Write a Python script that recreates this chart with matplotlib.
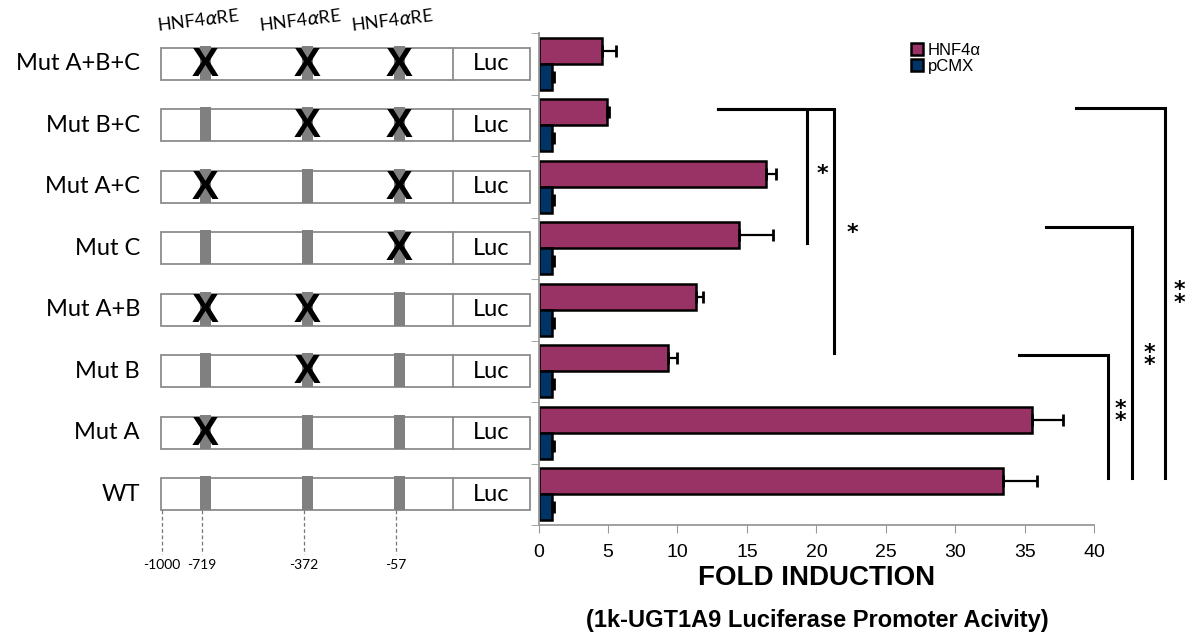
import numpy as np
import matplotlib.pyplot as plt
from matplotlib.patches import Rectangle

# constructs, bottom to top
constructs = ["WT", "Mut A", "Mut B", "Mut A+B", "Mut C", "Mut A+C", "Mut B+C", "Mut A+B+C"]
mutated = [[], ["A"], ["B"], ["A", "B"], ["C"], ["A", "C"], ["B", "C"], ["A", "B", "C"]]
sites = ["A", "B", "C"]
site_pos = [-719, -372, -57]
start_pos = -1000

# fold induction
hnf4a = [33.4, 35.55, 9.3, 11.3, 14.45, 16.4, 4.95, 4.6]
hnf4a_err = [2.45, 2.2, 0.65, 0.55, 2.4, 0.7, 0.12, 1.0]
pcmx = [1.0, 1.0, 1.0, 1.0, 1.0, 1.0, 1.0, 1.0]
pcmx_err = [0.1, 0.1, 0.1, 0.1, 0.1, 0.1, 0.1, 0.1]

# significance brackets: (x start, x vertical, y top, y bottom)
brackets = [(12.9, 19.3, 6.26, 4.09), (12.9, 21.3, 6.26, 2.3),
            (38.7, 45.1, 6.28, 0.26), (36.5, 42.7, 4.35, 0.26), (34.6, 41.0, 2.26, 0.26)]
stars = [("*", 20.4, 5.2), ("*", 22.6, 4.25), ("**", 41.9, 1.29), ("**", 44.0, 2.2), ("**", 46.1, 3.22)]

MAGENTA = "#993366"
NAVY = "#003366"
NARROW = ["Liberation Sans Narrow", "Liberation Sans", "DejaVu Sans"]

fig = plt.figure(figsize=(11.89, 6.40), dpi=100)
bottom = 1 - 525 / 640
height = (525 - 33) / 640

# ---- bar chart ----
ax = fig.add_axes([538.5 / 1189, bottom, (1094.3 - 538.5) / 1189, height])
y = np.arange(len(constructs))
h = 0.42
ebar = dict(ecolor="black", elinewidth=1.6, capsize=4, capthick=2)
b1 = ax.barh(y + h / 2, hnf4a, height=h, color=MAGENTA, edgecolor="black", linewidth=1.8,
             xerr=[np.zeros(len(y)), hnf4a_err], error_kw=ebar, label="HNF4\u03b1")
b2 = ax.barh(y - h / 2, pcmx, height=h, color=NAVY, edgecolor="black", linewidth=1.8,
             xerr=[np.zeros(len(y)), pcmx_err], error_kw=ebar, label="pCMX")
ax.set_xlim(0, 40)
ax.set_ylim(-0.5, len(constructs) - 0.5)
ax.set_xticks(range(0, 41, 5))
ax.set_yticks([])
ax.set_yticks(np.arange(-0.5, len(constructs)), minor=True)
ax.tick_params(axis="y", which="minor", length=6, color="#999999", direction="out")
ax.tick_params(axis="x", length=6, color="#999999", labelsize=14, pad=8)
for lab in ax.get_xticklabels():
    lab.set_family(NARROW)
for s in ["top", "right"]:
    ax.spines[s].set_visible(False)
for s in ["left", "bottom"]:
    ax.spines[s].set_color("#999999")
    ax.spines[s].set_linewidth(1.3)

ax.legend(handles=[b1, b2], loc="upper left", bbox_to_anchor=(0.643, 1.01), frameon=False,
          handlelength=0.7, handleheight=0.7, handletextpad=0.3, labelspacing=0.05,
          prop=dict(family=NARROW, size=12))

for x0, xv, yt, yb in brackets:
    ax.plot([x0, xv, xv], [yt, yt, yb], color="black", lw=2.2, clip_on=False,
            solid_joinstyle="miter")
# double stars are stacked vertically
for txt, sx, sy in stars:
    ax.text(sx, sy, "\n".join(txt), ha="center", va="center", fontsize=16,
            fontweight="bold", linespacing=0.55)

fig.text(817 / 1189, 1 - 578 / 640, "FOLD INDUCTION", ha="center", va="center",
         fontsize=20, fontweight="bold", family=NARROW)
fig.text(817 / 1189, 1 - 621 / 640, "(1k-UGT1A9 Luciferase Promoter Acivity)", ha="center",
         va="center", fontsize=17, fontweight="bold", family=NARROW)

# ---- promoter diagrams ----
dx = fig.add_axes([0, bottom, 538 / 1189, height])
dx.set_xlim(0, 538)
dx.set_ylim(-0.5, len(constructs) - 0.5)
dx.axis("off")

box_left, luc_left, box_right = 161, 453, 530
site_x = dict(zip(sites, [205, 307, 399]))
bh = 0.52
for i, (name, muts) in enumerate(zip(constructs, mutated)):
    dx.add_patch(Rectangle((box_left, i - bh / 2), box_right - box_left, bh,
                           facecolor="white", edgecolor="#8c8c8c", lw=1.3))
    dx.plot([luc_left, luc_left], [i - bh / 2, i + bh / 2], color="#8c8c8c", lw=1.3)
    dx.text((luc_left + box_right) / 2, i, "Luc", ha="center", va="center",
            fontsize=17, family="Lato")
    dx.text(140, i, name, ha="right", va="center", fontsize=17, family="Lato")
    for s in sites:
        dx.add_patch(Rectangle((site_x[s] - 5.5, i - bh / 2), 11, bh + 0.03,
                               facecolor="#808080", edgecolor="none"))
        if s in muts:
            dx.text(site_x[s], i - 0.02, "X", ha="center", va="center", fontsize=29,
                    fontweight="bold", family=NARROW)

# element labels above top row and positions under WT
top = len(constructs) - 0.5
for s in sites:
    dx.text(site_x[s] - 7, top + 0.21, r"HNF4$\alpha$RE", ha="center", va="center",
            fontsize=13, family="Lato", rotation=7)
for xp, p in [(box_left + 1, start_pos)] + [(site_x[s] - 3, sp) for s, sp in zip(sites, site_pos)]:
    dx.plot([xp, xp], [-bh / 2, -0.97], color="#777777", lw=0.9, ls=(0, (3, 2)), clip_on=False)
    dx.text(xp, -1.15, str(p), ha="center", va="center", fontsize=10, family="Lato")

fig.savefig("out.png", dpi=100)
